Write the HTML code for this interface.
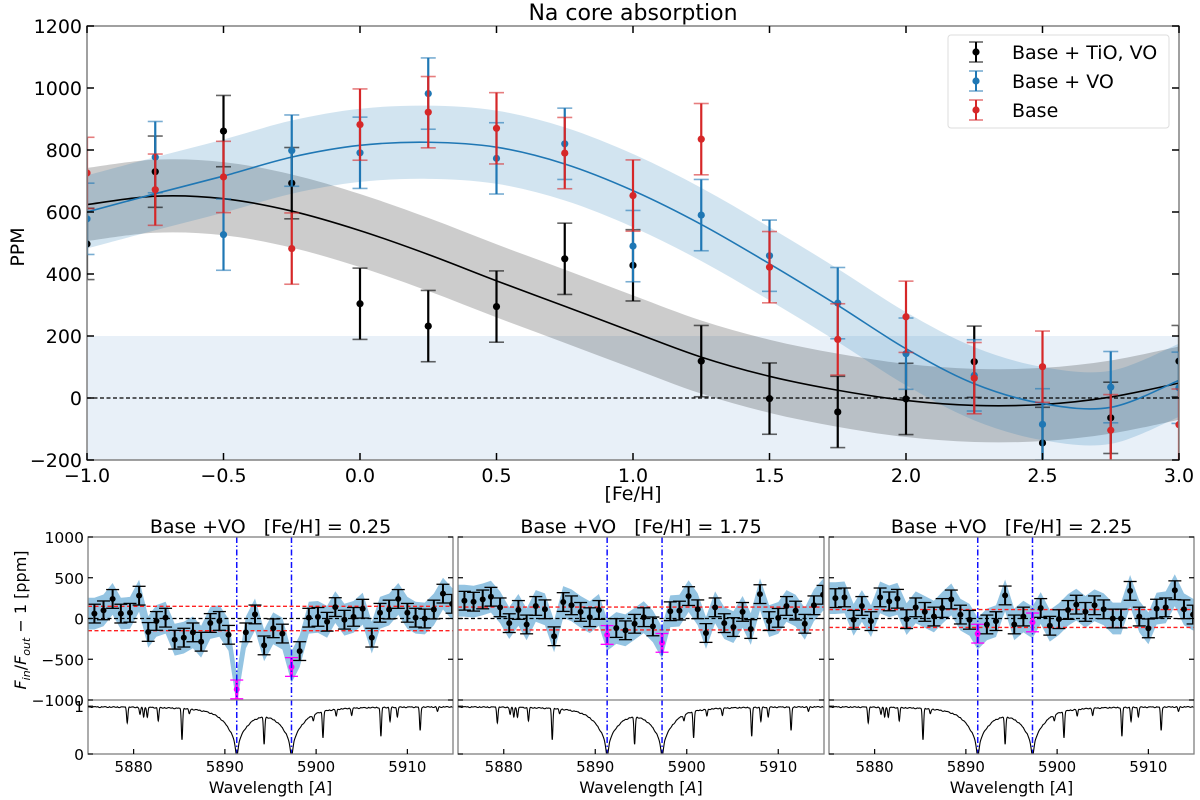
<!DOCTYPE html>
<html><head><meta charset="utf-8"><style>
html,body{margin:0;padding:0;background:#fff}
svg{display:block;font-family:"DejaVu Sans","Liberation Sans",sans-serif}
</style></head><body>
<svg id="fig" width="1200" height="800" viewBox="0 0 1200 800" xmlns="http://www.w3.org/2000/svg">
<defs>
<clipPath id="clipMain"><rect x="87" y="26" width="1092" height="434"/></clipPath>
<clipPath id="clipP0"><rect x="88" y="537" width="365" height="163"/></clipPath>
<clipPath id="clipP1"><rect x="458" y="537" width="366" height="163"/></clipPath>
<clipPath id="clipP2"><rect x="829" y="537" width="365" height="163"/></clipPath>
<clipPath id="clipS0"><rect x="88" y="700" width="365" height="54"/></clipPath>
<clipPath id="clipS1"><rect x="458" y="700" width="366" height="54"/></clipPath>
<clipPath id="clipS2"><rect x="829" y="700" width="365" height="54"/></clipPath>
</defs>
</svg>
<script>
// ===== Main chart data =====
const feh = [-1.0,-0.75,-0.5,-0.25,0.0,0.25,0.5,0.75,1.0,1.25,1.5,1.75,2.0,2.25,2.5,2.75,3.0];
const tioVals = [497,730,861,693,304,232,295,449,428,119,-2,-45,-3,117,-145,-64,119];
const voVals = [578,777,527,798,791,982,773,820,490,590,459,306,143,73,-85,35,33];
const baseVals = [726,672,713,482,882,922,870,790,653,835,422,189,262,64,101,-104,-86];
const pointErr = [115,115,115,115,115,115,115,115,115,115,115,115,115,115,115,115,115];
const tioModel = [624,651,643,603,540,463,378,296,213,132,70,25,-8,-24,-21,3,48];
const voModel = [600,659,716,777,815,825,809,755,669,560,433,299,159,46,-18,-30,57];
const bandHalf = [118,118,118,118,118,118,118,118,118,118,118,118,118,118,118,118,118];
const xTicks = [-1.0,-0.5,0.0,0.5,1.0,1.5,2.0,2.5,3.0];
const xTickLabels = ["\u22121.0","\u22120.5","0.0","0.5","1.0","1.5","2.0","2.5","3.0"];
const yTicks = [-200,0,200,400,600,800,1000,1200];
const yTickLabels = ["\u2212200","0","200","400","600","800","1000","1200"];

// ===== Bottom panels data =====
const waves = [5875.7,5876.7,5877.7,5878.6,5879.6,5880.6,5881.6,5882.5,5883.5,5884.5,5885.5,5886.5,5887.4,5888.4,5889.4,5890.4,5891.3,5892.3,5893.3,5894.3,5895.3,5896.3,5897.3,5898.2,5899.2,5900.2,5901.2,5902.1,5903.1,5904.1,5905.1,5906.1,5907.0,5908.0,5909.0,5910.0,5910.9,5911.9,5912.9,5913.9,5914.9];
const panelTitles = ["Base +VO   [Fe/H] = 0.25","Base +VO   [Fe/H] = 1.75","Base +VO   [Fe/H] = 2.25"];
const resid025 = [60,100,240,60,70,280,-165,-30,10,-260,-235,-170,-285,-55,-30,-200,-870,-170,50,-330,-120,-185,-595,-400,10,20,-40,140,-15,20,120,-235,70,110,240,70,10,0,110,305,180];
const resid175 = [218,206,234,267,137,-57,105,-73,154,113,-218,202,162,81,16,105,-202,-117,-145,-65,16,-97,-299,89,97,275,113,-178,137,-57,-105,81,-129,299,-32,8,154,97,-65,162,291];
const resid225 = [250,259,-16,154,-32,259,210,242,-8,137,81,24,129,234,48,-16,-186,-73,-32,283,-73,24,-48,129,-89,-8,105,170,81,162,113,0,0,339,24,-121,121,137,347,113,48];
const residErr = 115;
const residBand = 195;
const noiseLevels = [150,140,110];
const naLines = [5891.3,5897.3];
const wlTicks = [5880,5890,5900,5910];
const residTicks = [1000,500,0,-500,-1000];
const residTickLabels = ["1000","500","0","\u2212500","\u22121000"];
const specLines = [[5879.3,0.32],[5880.7,0.15],[5881.1,0.2],[5881.5,0.2],[5882.7,0.28],[5885.3,0.67],[5886.1,0.1],[5894.3,0.72],[5899.7,0.15],[5900.75,0.6],[5902.2,0.15],[5903.9,0.15],[5907.1,0.62],[5908.1,0.3],[5908.9,0.2],[5911.4,0.5],[5913.3,0.1]];

const NS="http://www.w3.org/2000/svg";
const svg=document.getElementById('fig');
function el(tag,attrs,parent){const e=document.createElementNS(NS,tag);for(const k in attrs)e.setAttribute(k,attrs[k]);(parent||svg).appendChild(e);return e;}
function txt(s,attrs,parent){const e=el('text',attrs,parent);e.textContent=s;return e;}

const X0=87,X1=1179,Y0=26,Y1=460;
const sx=x=>X0+(x+1)/4*(X1-X0);
const sy=v=>Y1-(v+200)/1400*(Y1-Y0);

const gMain=el('g',{'clip-path':'url(#clipMain)'});


const zone=el('rect',{x:X0,y:sy(200),width:X1-X0,height:sy(-200)-sy(200),fill:'#e8f0f8'},gMain);



function smoothPath(xs,ys){
  let d='M'+xs[0].toFixed(2)+','+ys[0].toFixed(2);
  for(let i=0;i<xs.length-1;i++){
    const x0=xs[Math.max(i-1,0)],y0=ys[Math.max(i-1,0)];
    const x1=xs[i],y1=ys[i],x2=xs[i+1],y2=ys[i+1];
    const x3=xs[Math.min(i+2,xs.length-1)],y3=ys[Math.min(i+2,ys.length-1)];
    const c1x=x1+(x2-x0)/6,c1y=y1+(y2-y0)/6,c2x=x2-(x3-x1)/6,c2y=y2-(y3-y1)/6;
    d+=' C'+c1x.toFixed(2)+','+c1y.toFixed(2)+' '+c2x.toFixed(2)+','+c2y.toFixed(2)+' '+x2.toFixed(2)+','+y2.toFixed(2);
  }
  return d;
}
function bandPath(model){
  const xs=feh.map(sx);
  const up=model.map((v,i)=>sy(v+bandHalf[i]));
  const lo=model.map((v,i)=>sy(v-bandHalf[i]));
  let d=smoothPath(xs,up);
  const rx=xs.slice().reverse(),rl=lo.slice().reverse();
  d+=' L'+smoothPath(rx,rl).slice(1)+' Z';
  return d;
}
const bandTio=el('path',{d:bandPath(tioModel),fill:'rgba(0,0,0,0.2)'},gMain);


const bandVo=el('path',{d:bandPath(voModel),fill:'rgba(31,119,180,0.2)'},gMain);


const zeroLine=el('line',{x1:X0,x2:X1,y1:sy(0),y2:sy(0),stroke:'#000','stroke-width':1.2,'stroke-dasharray':'4,2.5'},gMain);


const lineTio=el('path',{d:smoothPath(feh.map(sx),tioModel.map(sy)),fill:'none',stroke:'#000','stroke-width':1.6},gMain);


const lineVo=el('path',{d:smoothPath(feh.map(sx),voModel.map(sy)),fill:'none',stroke:'#1f77b4','stroke-width':1.6},gMain);



function errSeries(vals,color,name){
  const g=el('g',{},gMain);
  
  
  vals.forEach((v,i)=>{
    const x=sx(feh[i]),yt=sy(v+pointErr[i]),yb=sy(v-pointErr[i]);
    const gg=el('g',{},g);
    
    
    el('line',{x1:x,x2:x,y1:yt,y2:yb,stroke:color,'stroke-width':2.2},gg);
    el('line',{x1:x-7.5,x2:x+7.5,y1:yt,y2:yt,stroke:color,'stroke-width':1.6,'stroke-opacity':0.6},gg);
    el('line',{x1:x-7.5,x2:x+7.5,y1:yb,y2:yb,stroke:color,'stroke-width':1.6,'stroke-opacity':0.6},gg);
    el('circle',{cx:x,cy:sy(v),r:3.6,fill:color},gg);
  });
}
errSeries(tioVals,'#000000','series-base-tio-vo');
errSeries(voVals,'#1f77b4','series-base-vo');
errSeries(baseVals,'#d62728','series-base');

const frame=el('rect',{x:X0,y:Y0,width:X1-X0,height:Y1-Y0,fill:'none',stroke:'#808080','stroke-width':1.5});


const gxt=el('g',{});


xTicks.forEach((t,i)=>{
  const x=sx(t);
  el('line',{x1:x,x2:x,y1:Y1,y2:Y1-7,stroke:'#000','stroke-width':1.5},gxt);
  el('line',{x1:x,x2:x,y1:Y0,y2:Y0+7,stroke:'#000','stroke-width':1.5},gxt);
  const l=txt(xTickLabels[i],{x:x,y:482,'font-size':19,'text-anchor':'middle',fill:'#000'},gxt);
  
  
});
const gyt=el('g',{});


yTicks.forEach((t,i)=>{
  const y=sy(t);
  el('line',{x1:X0,x2:X0+7,y1:y,y2:y,stroke:'#000','stroke-width':1.5},gyt);
  el('line',{x1:X1,x2:X1-7,y1:y,y2:y,stroke:'#000','stroke-width':1.5},gyt);
  const l=txt(yTickLabels[i],{x:82,y:y+7,'font-size':19,'text-anchor':'end',fill:'#000'},gyt);
  
  
});
const title=txt('Na core absorption',{x:633,y:20,'font-size':22,'text-anchor':'middle'});


const xlab=txt('[Fe/H]',{x:633,y:500,'font-size':19,'text-anchor':'middle'});


const ylab=txt('PPM',{x:0,y:0,'font-size':19,'text-anchor':'middle',transform:'translate(24,247) rotate(-90)'});



const gl=el('g',{});


el('rect',{x:948,y:35,width:221,height:93,rx:3,fill:'#fff','fill-opacity':0.85,stroke:'#ddd','stroke-width':1},gl);
[['Base + TiO, VO','#000000',52],['Base + VO','#1f77b4',81],['Base','#d62728',110]].forEach(e=>{
  const g=el('g',{},gl);
  
  
  const x=976,y=e[2];
  el('line',{x1:x,x2:x,y1:y-10,y2:y+10,stroke:e[1],'stroke-width':2},g);
  el('line',{x1:x-7,x2:x+7,y1:y-10,y2:y-10,stroke:e[1],'stroke-width':1.6,'stroke-opacity':0.6},g);
  el('line',{x1:x-7,x2:x+7,y1:y+10,y2:y+10,stroke:e[1],'stroke-width':1.6,'stroke-opacity':0.6},g);
  el('circle',{cx:x,cy:y,r:3.6,fill:e[1]},g);
  txt(e[0],{x:1012,y:y+7,'font-size':19},g);
});

// ===== Bottom panels =====
const panels=[{x0:88,x1:453},{x0:458,x1:824},{x0:829,x1:1194}];
const resids=[resid025,resid175,resid225];
const PT=537,PM=700,PB=754;
const WL0=5875,WL1=5915;
function spectrum(w){
  let f=1;
  naLines.forEach(c=>{
    const d=w-c;
    f-=0.55/(1+Math.pow(d/1.5,2))+0.45/(1+Math.pow(d/0.22,2));
  });
  specLines.forEach(l=>{f*=1-l[1]*Math.exp(-Math.pow(w-l[0],2)/(2*0.07*0.07));});
  f-=0.02*Math.abs(Math.sin(w*7.3))*Math.abs(Math.sin(w*3.1));
  return f;
}
panels.forEach((p,pi)=>{
  const psx=w=>p.x0+(w-WL0)/(WL1-WL0)*(p.x1-p.x0);
  const psy=v=>PT+(1000-v)/2000*(PM-PT);
  const ssy=f=>PB-f*(PB-PM)/1.13;
  const vals=resids[pi];
  const g=el('g',{});
  
  
  const gc=el('g',{'clip-path':'url(#clipP'+pi+')'},g);
  let up='',lo='';
  const xs=[p.x0].concat(waves.map(psx),[p.x1]);
  const vv=[vals[0]].concat(vals,[vals[vals.length-1]]);
  xs.forEach((x,i)=>{up+=(i?'L':'M')+x.toFixed(1)+','+psy(vv[i]+residBand).toFixed(1);});
  for(let i=xs.length-1;i>=0;i--){lo+='L'+xs[i].toFixed(1)+','+psy(vv[i]-residBand).toFixed(1);}
  const band=el('path',{d:up+lo+'Z',fill:'#94c4e2'},gc);
  
  
  const z=el('line',{x1:p.x0,x2:p.x1,y1:psy(0),y2:psy(0),stroke:'#000','stroke-width':1.2,'stroke-dasharray':'4,2.5'},gc);
  
  
  [noiseLevels[pi],-noiseLevels[pi]].forEach(v=>{
    const r=el('line',{x1:p.x0,x2:p.x1,y1:psy(v),y2:psy(v),stroke:'#ff2020','stroke-width':1.4,'stroke-dasharray':'4,2.5'},gc);
    
    
  });
  naLines.forEach(c=>{
    const l=el('line',{x1:psx(c),x2:psx(c),y1:PT,y2:PB,stroke:'#1010ff','stroke-width':1.5,'stroke-dasharray':'6,2.5,1.5,2.5'},g);
    
    
  });
  vals.forEach((v,i)=>{
    const mag=(i===16||i===22);
    const col=mag?'#ff00ff':'#000';
    const x=psx(waves[i]),yt=psy(v+residErr),yb=psy(v-residErr);
    const gg=el('g',{},gc);
    
    
    el('line',{x1:x,x2:x,y1:yt,y2:yb,stroke:col,'stroke-width':mag?3:2},gg);
    el('line',{x1:x-6.5,x2:x+6.5,y1:yt,y2:yt,stroke:col,'stroke-width':1.3},gg);
    el('line',{x1:x-6.5,x2:x+6.5,y1:yb,y2:yb,stroke:col,'stroke-width':1.3},gg);
    el('circle',{cx:x,cy:psy(v),r:3,fill:col},gg);
  });
  const gs=el('g',{'clip-path':'url(#clipS'+pi+')'},g);
  let d='';
  for(let w=WL0;w<=WL1;w+=0.02){d+=(d?'L':'M')+psx(w).toFixed(2)+','+ssy(Math.max(0,spectrum(w))).toFixed(2);}
  const sp=el('path',{d:d,fill:'none',stroke:'#000','stroke-width':1.1},gs);
  
  
  el('rect',{x:p.x0,y:PT,width:p.x1-p.x0,height:PB-PT,fill:'none',stroke:'#808080','stroke-width':1.3},g);
  el('line',{x1:p.x0,x2:p.x1,y1:PM,y2:PM,stroke:'#808080','stroke-width':1.3},g);
  residTicks.forEach((t,i)=>{
    const y=psy(t);
    el('line',{x1:p.x0,x2:p.x0+5,y1:y,y2:y,stroke:'#000','stroke-width':1.2},g);
    el('line',{x1:p.x1,x2:p.x1-5,y1:y,y2:y,stroke:'#000','stroke-width':1.2},g);
    if(pi===0){
      const l=txt(residTickLabels[i],{x:84,y:y+6,'font-size':15.5,'text-anchor':'end'},g);
      
      
    }
  });
  [0,1].forEach(f=>{
    el('line',{x1:p.x0,x2:p.x0+5,y1:ssy(f),y2:ssy(f),stroke:'#000','stroke-width':1.2},g);
    if(pi===0){txt(String(f),{x:84,y:ssy(f)+6,'font-size':15.5,'text-anchor':'end'},g);}
  });
  wlTicks.forEach(t=>{
    const x=psx(t);
    el('line',{x1:x,x2:x,y1:PB,y2:PB-5,stroke:'#000','stroke-width':1.2},g);
    const l=txt(String(t),{x:x,y:772,'font-size':15,'text-anchor':'middle'},g);
    
    
  });
  const pt=txt(panelTitles[pi],{x:(p.x0+p.x1)/2,y:533,'font-size':19,'text-anchor':'middle',style:'white-space:pre'},g);
  
  
  const xl=el('text',{x:(p.x0+p.x1)/2,y:793,'font-size':16,'text-anchor':'middle'},g);
  
  
  xl.appendChild(document.createTextNode('Wavelength ['));
  const a=el('tspan',{'font-style':'italic'},xl);a.textContent='A';
  xl.appendChild(document.createTextNode(']'));
});
const ry=el('text',{'font-size':16,'text-anchor':'middle',transform:'translate(26,620) rotate(-90)'});


(function(){
  const a=el('tspan',{'font-style':'italic'},ry);a.textContent='F';
  const b=el('tspan',{'font-style':'italic','font-size':11,dy:4},ry);b.textContent='in';
  const c=el('tspan',{dy:-4},ry);c.textContent='/';
  const d=el('tspan',{'font-style':'italic'},ry);d.textContent='F';
  const e=el('tspan',{'font-style':'italic','font-size':11,dy:4},ry);e.textContent='out';
  const f=el('tspan',{dy:-4},ry);f.textContent=' \u2212 1 [ppm]';
})();
</script>
</body></html>
